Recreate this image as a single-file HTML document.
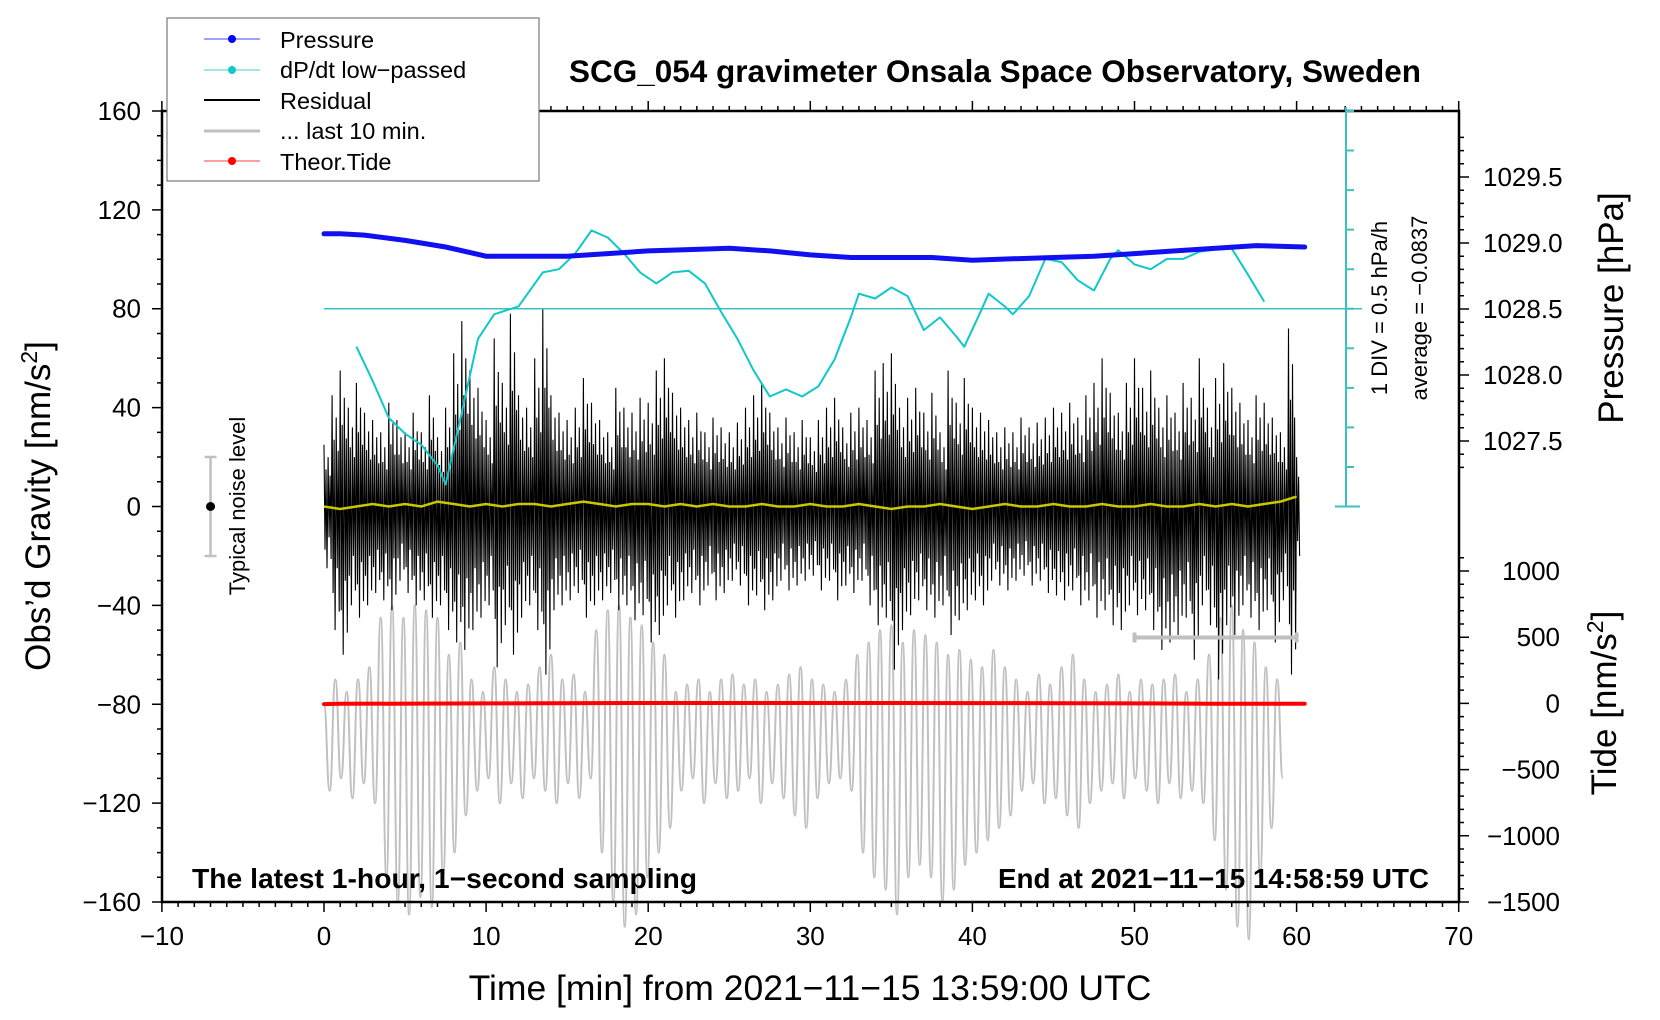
<!DOCTYPE html>
<html><head><meta charset="utf-8"><style>
html,body{margin:0;padding:0;background:#fff;}
svg{display:block;font-family:"Liberation Sans",Arial,sans-serif;}
</style></head><body>
<svg id="chart" width="1660" height="1020" viewBox="0 0 1660 1020" xmlns="http://www.w3.org/2000/svg">
<g id="marks"></g>
<g id="axes"></g>
</svg>
<script>
// ---- data ----
const pressT = [0,1,2.5,5,7.5,10,12.5,15,17.5,20,22.5,25,27.5,30,32.5,35,37.5,40,42.5,45,47.5,50,52.5,55,57.5,60.5];
const pressV = [1029.07,1029.07,1029.06,1029.02,1028.97,1028.90,1028.90,1028.90,1028.92,1028.94,1028.95,1028.96,1028.94,1028.91,1028.89,1028.89,1028.89,1028.87,1028.88,1028.89,1028.90,1028.92,1028.94,1028.96,1028.98,1028.97];
const dpdtT = [2,3,4,5,6,7,7.5,8.5,9.5,10.5,12,13.5,14.5,15.5,16.5,17.5,18.5,19.5,20.5,21.5,22.5,23.5,24.5,25.5,26.5,27.5,28.5,29.5,30.5,31.5,32.5,33,34,35,36,37,38,39,39.5,40.5,41,42,42.5,43.5,44.5,45.5,46.5,47.5,48.5,49,50,51,52,53,54,55,56,57,58];
const dpdtV = [-0.48,-0.91,-1.38,-1.58,-1.72,-1.98,-2.22,-1.31,-0.38,-0.07,0.03,0.46,0.50,0.70,0.99,0.90,0.70,0.46,0.32,0.46,0.48,0.32,-0.04,-0.38,-0.78,-1.11,-1.02,-1.11,-0.98,-0.64,-0.11,0.19,0.13,0.27,0.16,-0.27,-0.11,-0.35,-0.48,-0.04,0.19,0.03,-0.07,0.16,0.63,0.59,0.36,0.23,0.63,0.74,0.56,0.50,0.63,0.63,0.72,0.75,0.76,0.43,0.09];
const resHi = [25,45,55,40,50,38,35,30,42,35,30,38,30,45,28,40,62,75,55,48,35,68,50,78,45,40,60,80,45,38,35,40,52,42,35,30,48,40,38,44,42,55,60,46,40,35,38,30,36,32,30,34,40,45,50,38,32,36,30,35,28,35,40,44,32,38,40,35,55,58,62,40,44,48,38,46,30,55,42,52,40,38,35,30,32,30,36,32,34,36,40,38,42,36,45,50,60,46,38,50,60,48,55,40,45,38,50,44,60,40,52,58,48,42,35,45,42,36,30,72,20];
const resLo = [-25,-50,-60,-40,-45,-40,-35,-38,-42,-30,-35,-40,-38,-45,-40,-50,-55,-58,-50,-45,-40,-65,-48,-60,-45,-40,-50,-68,-42,-40,-38,-35,-45,-40,-38,-35,-42,-40,-46,-44,-55,-52,-40,-45,-38,-35,-40,-32,-38,-35,-30,-32,-40,-36,-42,-38,-30,-34,-32,-30,-28,-34,-30,-38,-32,-35,-30,-40,-48,-45,-66,-50,-44,-38,-42,-45,-40,-52,-46,-42,-38,-40,-30,-32,-34,-30,-28,-32,-30,-35,-36,-38,-34,-40,-38,-45,-42,-48,-50,-40,-44,-42,-50,-58,-55,-52,-45,-62,-40,-48,-70,-48,-52,-40,-45,-50,-42,-55,-38,-68,-20];
const yellowV = [0,-1,0,1,0,1,0,2,1,0,1,0,1,1,0,1,2,1,0,1,1,0,1,0,1,0,0,1,0,0,1,0,0,1,0,-1,0,0,1,0,-1,0,1,0,0,1,0,0,1,0,0,1,0,0,1,0,1,0,1,2,4];
const grayHi = [-80,-70,-75,-70,-65,-45,-40,-45,-40,-42,-45,-60,-55,-70,-75,-65,-70,-75,-72,-65,-60,-70,-68,-75,-50,-42,-40,-45,-48,-55,-60,-75,-72,-70,-75,-70,-68,-72,-70,-75,-72,-68,-65,-70,-72,-75,-70,-60,-55,-50,-48,-55,-50,-52,-55,-60,-58,-62,-65,-58,-65,-70,-75,-68,-72,-65,-60,-70,-75,-72,-68,-75,-70,-72,-70,-68,-75,-70,-60,-45,-40,-50,-55,-65,-70];
const grayLo = [-115,-110,-118,-112,-120,-150,-160,-165,-158,-162,-150,-140,-125,-115,-110,-120,-112,-118,-110,-115,-120,-112,-118,-110,-140,-160,-170,-165,-150,-140,-130,-115,-110,-120,-112,-118,-115,-110,-120,-112,-118,-125,-130,-118,-112,-110,-115,-140,-150,-155,-165,-150,-145,-150,-160,-155,-145,-140,-135,-130,-125,-115,-112,-120,-118,-125,-130,-120,-115,-112,-118,-110,-115,-120,-112,-118,-115,-120,-135,-155,-170,-175,-150,-130,-110];
const tideT = [0,1,10,20,30,40,50,55,60.5];
const tideV = [-5,-3,0,3,3,2,0,-2,-3];
const xTicks = [-10,0,10,20,30,40,50,60,70];
const gTicks = [160,120,80,40,0,-40,-80,-120,-160];
const pTicks = [1029.5,1029.0,1028.5,1028.0,1027.5];
const tTicks = [1000,500,0,-500,-1000,-1500];
const noiseLevel = 20;
const lastTenLevel = -53;

// ---- scales ----
const X = t => 324 + t*16.21;
const Yg = v => 506.5 - v*2.472;
const Yp = p => 243 - (p-1029)*132;
const Yt = n => 703.4 - n*0.1324;
const Yc = r => Yg(80 + r*32);
const NS='http://www.w3.org/2000/svg';
const marks=document.getElementById('marks'), axes=document.getElementById('axes');
function el(tag, attrs, parent){const e=document.createElementNS(NS,tag);for(const k in attrs)e.setAttribute(k,attrs[k]);(parent||marks).appendChild(e);return e;}
const fmt = v => (v<0?'\u2212':'')+Math.abs(v);

// gray last 10 min (smooth)
let gpts=[];
for(let i=0;i<grayHi.length;i++){gpts.push([X(i*0.7),Yg(grayHi[i])]);if(i<grayLo.length)gpts.push([X(i*0.7+0.35),Yg(grayLo[i])]);}
let gd='M'+gpts[0][0].toFixed(1)+','+gpts[0][1].toFixed(1);
for(let i=1;i<gpts.length;i++){const a=gpts[i-1],b=gpts[i],mx=(a[0]+b[0])/2;gd+=` C${mx.toFixed(1)},${a[1].toFixed(1)} ${mx.toFixed(1)},${b[1].toFixed(1)} ${b[0].toFixed(1)},${b[1].toFixed(1)}`;}
let e=el('path',{d:gd,fill:'none',stroke:'#c0c0c0','stroke-width':2});



// residual
let rp=[];
for(let i=0;i<resHi.length;i++){
 const t=i*0.5;
 rp.push(X(t).toFixed(1)+','+Yg(resHi[i]).toFixed(1));
 rp.push(X(t+0.0625).toFixed(1)+','+Yg(resLo[i]*0.7).toFixed(1));
 rp.push(X(t+0.125).toFixed(1)+','+Yg(resHi[i]*0.6).toFixed(1));
 rp.push(X(t+0.1875).toFixed(1)+','+Yg(resLo[i]).toFixed(1));
 if(t<60){rp.push(X(t+0.25).toFixed(1)+','+Yg(resHi[i]*0.8).toFixed(1));
 rp.push(X(t+0.3125).toFixed(1)+','+Yg(resLo[i]*0.5).toFixed(1));
 rp.push(X(t+0.375).toFixed(1)+','+Yg(resHi[i]*0.5).toFixed(1));
 rp.push(X(t+0.4375).toFixed(1)+','+Yg(resLo[i]*0.85).toFixed(1));}
}
e=el('polyline',{points:rp.join(' '),fill:'none',stroke:'#000','stroke-width':1.1});



// yellow smoothed
e=el('polyline',{points:yellowV.map((v,i)=>X(i).toFixed(1)+','+Yg(v).toFixed(1)).join(' '),fill:'none',stroke:'#c8c800','stroke-width':2.5});



// cyan zero line
e=el('line',{x1:X(0),x2:1362,y1:Yc(0),y2:Yc(0),stroke:'#3cc0c0','stroke-width':1.5});


// cyan dP/dt
e=el('polyline',{points:dpdtT.map((t,i)=>X(t).toFixed(1)+','+Yc(dpdtV[i]).toFixed(1)).join(' '),fill:'none',stroke:'#10c8c8','stroke-width':2,'stroke-linejoin':'round'});



// pressure
e=el('polyline',{points:pressT.map((t,i)=>X(t).toFixed(1)+','+Yp(pressV[i]).toFixed(1)).join(' '),fill:'none',stroke:'#1010f0','stroke-width':5,'stroke-linecap':'round'});



// tide
e=el('polyline',{points:tideT.map((t,i)=>X(t).toFixed(1)+','+Yt(tideV[i]).toFixed(1)).join(' '),fill:'none',stroke:'#f00','stroke-width':4,'stroke-linecap':'round'});



// last 10 min bar
const by=Yg(lastTenLevel);
e=el('path',{d:`M${X(50)},${by}H${X(60)}M${X(50)},${by-5}V${by+5}M${X(60)},${by-5}V${by+5}`,stroke:'#c0c0c0','stroke-width':4,fill:'none'});



// noise bar
const nx=X(-7);
e=el('path',{d:`M${nx},${Yg(noiseLevel)}V${Yg(-noiseLevel)}M${nx-6},${Yg(noiseLevel)}H${nx+6}M${nx-6},${Yg(-noiseLevel)}H${nx+6}`,stroke:'#c0c0c0','stroke-width':2.5,fill:'none'});


e=el('circle',{cx:nx,cy:Yg(0),r:4.5,fill:'#000'});



// ---- axes ----
let ap=`M162,111H1459V902H162Z`;
let tp='';
for(let t=-10;t<=70;t++){const x=X(t),L=(t%10===0)?10:5;tp+=`M${x},902v${L}M${x},111v${-L}`;}
for(let v=-160;v<=160;v+=10){const y=Yg(v),L=(v%40===0)?10:5;tp+=`M162,${y}h${-L}`;}
for(let k=0;k<=25;k++){const p=1027.3+k*0.1;const y=Yp(p);if(y<111||y>506)continue;const L=(Math.round(p*10)%5===0)?10:5;tp+=`M1459,${y}h${L}`;}
for(let n=-1500;n<=1100;n+=100){const y=Yt(n);if(y<520||y>902)continue;const L=(n%500===0)?10:5;tp+=`M1459,${y}h${L}`;}
e=el('path',{d:ap,fill:'none',stroke:'#000','stroke-width':2.5},axes);


e=el('path',{d:tp,fill:'none',stroke:'#000','stroke-width':1.5},axes);



// cyan axis
let cp=`M1346,107V506.5M1335,506.5H1360`;
for(let k=-4;k<=5;k++){const y=Yc(k*0.5);cp+=`M1346,${y}h8`;}
e=el('path',{d:cp,fill:'none',stroke:'#3cc0c0','stroke-width':2},axes);



function txt(s,attrs,name){const t=el('text',attrs,axes);t.textContent=s;return t;}
xTicks.forEach(v=>{txt(fmt(v),{x:X(v),y:945,'font-size':26,'text-anchor':'middle'},'x-tick-label');});
gTicks.forEach(v=>{txt(fmt(v),{x:141,y:Yg(v)+9,'font-size':26,'text-anchor':'end'},'gravity-tick-label');});
pTicks.forEach(v=>{txt(v.toFixed(1),{x:1483,y:Yp(v)+9,'font-size':26},'pressure-tick-label');});
tTicks.forEach(v=>{txt(fmt(v),{x:1560,y:Yt(v)+9,'font-size':26,'text-anchor':'end'},'tide-tick-label');});
</script>
<svg style="position:absolute;left:0;top:0" width="1660" height="1020">
<g font-family="Liberation Sans, Arial, sans-serif">
<text x="995" y="82" font-size="31.5" font-weight="bold" text-anchor="middle">SCG_054 gravimeter Onsala Space Observatory, Sweden</text>
<text x="810" y="1000" font-size="35.5" text-anchor="middle">Time [min] from 2021−11−15 13:59:00 UTC</text>
<text transform="translate(50,506) rotate(-90)" font-size="35" text-anchor="middle">Obs’d Gravity [nm/s<tspan baseline-shift="super" font-size="23">2</tspan>]</text>
<text transform="translate(1623,308) rotate(-90)" font-size="35" text-anchor="middle">Pressure [hPa]</text>
<text transform="translate(1616,703) rotate(-90)" font-size="35" text-anchor="middle">Tide [nm/s<tspan baseline-shift="super" font-size="23">2</tspan>]</text>
<text transform="translate(245,506) rotate(-90)" font-size="22" text-anchor="middle">Typical noise level</text>
<text transform="translate(1387,308) rotate(-90)" font-size="22" text-anchor="middle">1 DIV = 0.5 hPa/h</text>
<text transform="translate(1427,308) rotate(-90)" font-size="22" text-anchor="middle">average = −0.0837</text>
<text x="192" y="888" font-size="27.5" font-weight="bold" textLength="505" lengthAdjust="spacingAndGlyphs">The latest 1-hour, 1−second sampling</text>
<text x="998" y="888" font-size="27.5" font-weight="bold" textLength="431" lengthAdjust="spacingAndGlyphs">End at 2021−11−15 14:58:59 UTC</text>
<g>
<rect x="167" y="18" width="372" height="163" fill="#fff" stroke="#777" stroke-width="1.2"/>
<g><line x1="204" x2="260" y1="39" y2="39" stroke="#4040ff"/><circle cx="232" cy="39" r="4" fill="#0000ff"/><text x="280" y="48" font-size="23.5">Pressure</text></g>
<g><line x1="204" x2="260" y1="70" y2="70" stroke="#40d0d0"/><circle cx="232" cy="70" r="4" fill="#10c8c8"/><text x="280" y="78" font-size="23.5">dP/dt low−passed</text></g>
<g><line x1="204" x2="260" y1="100" y2="100" stroke="#000" stroke-width="2"/><text x="280" y="109" font-size="23.5">Residual</text></g>
<g><line x1="204" x2="260" y1="131" y2="131" stroke="#c0c0c0" stroke-width="3"/><text x="280" y="139" font-size="23.5">... last 10 min.</text></g>
<g><line x1="204" x2="260" y1="161" y2="161" stroke="#ff4040"/><circle cx="232" cy="161" r="4" fill="#ff0000"/><text x="280" y="170" font-size="23.5">Theor.Tide</text></g>
</g>
</g>
</svg>
</body></html>
